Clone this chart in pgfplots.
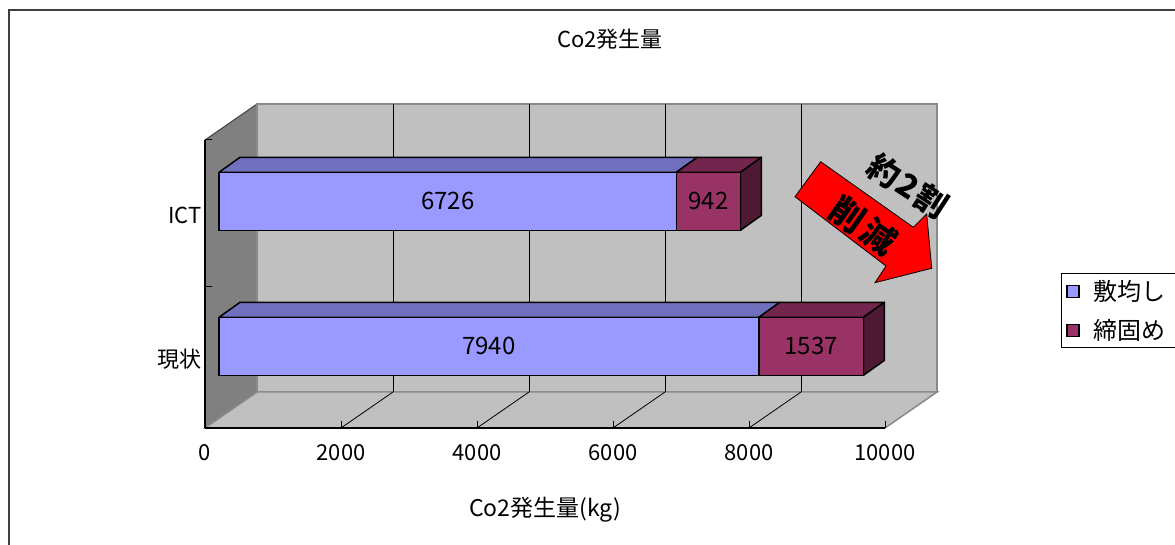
\documentclass[border=0pt]{standalone}
\usepackage{fontspec}
\setmainfont{Noto Sans CJK JP}
\usepackage{pgfplots}
\usepackage{pgfplotstable}
\pgfplotsset{compat=1.18}

\definecolor{wallback}{HTML}{C0C0C0}
\definecolor{wallside}{HTML}{808080}
\definecolor{walledge}{HTML}{8A8A8A}
\definecolor{spreadfront}{HTML}{9999FF}
\definecolor{spreadtop}{HTML}{7070BE}
\definecolor{compactfront}{HTML}{993366}
\definecolor{compacttop}{HTML}{73264D}
\definecolor{compactside}{HTML}{4D1933}
\definecolor{framegray}{HTML}{404040}

% bar centre (y), 敷均し (a) and 締固め (b) in kg
\pgfplotstableread{
y   a     b
72  7940  1537
217 6726  942
}\cotable

% depth of the bars and of the walls, in axis units
\def\bardx{309}\def\bardy{15}\def\barhw{29}
\def\walldx{765}\def\walldy{36}

\newcommand\chartfont{\fontsize{22}{26}\selectfont}
\newcommand\bigfont{\fontsize{24}{28}\selectfont}

% top and end faces of one stacked bar (row #1 of the table)
\newcommand\barfaces[1]{%
  \pgfplotstablegetelem{#1}{y}\of\cotable\let\cy\pgfplotsretval
  \pgfplotstablegetelem{#1}{a}\of\cotable\let\ca\pgfplotsretval
  \pgfplotstablegetelem{#1}{b}\of\cotable\let\cb\pgfplotsretval
  \pgfmathsetmacro\ct{\cy+\barhw}%
  \pgfmathsetmacro\cbo{\cy-\barhw}%
  \pgfmathsetmacro\ctt{\ct+\bardy}%
  \pgfmathsetmacro\cbt{\cbo+\bardy}%
  \pgfmathsetmacro\cab{\ca+\bardx}%
  \pgfmathsetmacro\ce{\ca+\cb}%
  \pgfmathsetmacro\ceb{\ce+\bardx}%
  \addplot[forget plot, fill=spreadtop, draw=black, line width=1.5pt, line join=round]
    coordinates {(0,\ct) (\bardx,\ctt) (\cab,\ctt) (\ca,\ct)} -- cycle;
  \addplot[forget plot, fill=compacttop, draw=black, line width=1.5pt, line join=round]
    coordinates {(\ca,\ct) (\cab,\ctt) (\ceb,\ctt) (\ce,\ct)} -- cycle;
  \addplot[forget plot, fill=compactside, draw=black, line width=1.5pt, line join=round]
    coordinates {(\ce,\cbo) (\ce,\ct) (\ceb,\ctt) (\ceb,\cbt)} -- cycle;
}

\begin{document}
\begin{tikzpicture}[font=\chartfont]
\useasboundingbox (-205pt,-117pt) rectangle (970pt,428pt);
\fill[white] (-205pt,-117pt) rectangle (970pt,428pt);
\draw[framegray, line width=1.5pt] (-196pt,418pt) rectangle (990pt,-140pt);

% frame: walls, floor, value axis and category axis
\begin{axis}[
  at={(0pt,0pt)}, anchor=origin,
  x=0.068pt, y=1pt,
  xmin=0, xmax=10000, ymin=0, ymax=288,
  clip=false, axis on top,
  axis x line*=bottom, axis y line*=left,
  axis line style={black, line width=1.2pt, -},
  xtick={0,2000,...,10000},
  scaled x ticks=false,
  tick align=inside, major tick length=7pt,
  x tick style={black, line width=1pt},
  ytick={69,213}, yticklabels={現状,ICT},
  y tick style={draw=none},
  tick label style={font=\chartfont},
  xticklabel style={yshift=-13pt},
  /pgf/number format/1000 sep={},
  /pgf/number format/assume math mode=true,
  title={Co2発生量},
  title style={at={(axis description cs:0.5956,1.33)}, anchor=center, font=\chartfont},
  xlabel={Co2発生量(kg)},
  xlabel style={at={(axis description cs:0.5,-0.285)}, anchor=center, font=\fontsize{23}{27}\selectfont},
]
\fill[wallside] (axis cs:0,0) -- (axis cs:\walldx,\walldy) -- (axis cs:\walldx,324) -- (axis cs:0,288) -- cycle;
\draw[black!75, line width=1pt] (axis cs:0,288) -- (axis cs:\walldx,324);
\filldraw[fill=wallback, draw=walledge, line width=1.5pt]
  (axis cs:\walldx,\walldy) rectangle (axis cs:10765,324);
\filldraw[fill=wallback, draw=walledge, line width=1.5pt]
  (axis cs:0,0) -- (axis cs:10000,0) -- (axis cs:10765,\walldy) -- (axis cs:\walldx,\walldy) -- cycle;
\pgfplotsinvokeforeach{2000,4000,6000,8000}{
  \draw[black, line width=0.8pt] (axis cs:#1+\walldx,\walldy) -- (axis cs:#1+\walldx,324);
  \draw[black, line width=0.8pt] (axis cs:#1,0) -- (axis cs:#1+\walldx,\walldy);
}
\pgfplotsinvokeforeach{141,288}{
  \draw[black, line width=1pt] (axis cs:0,#1) -- (axis cs:103,#1);
}
\end{axis}

% the bars, set a little into the depth of the frame
\begin{axis}[
  at={(14pt,9.7pt)}, anchor=origin,
  x=0.068pt, y=1pt,
  xmin=0, xmax=10000, ymin=0, ymax=288,
  clip=false, axis lines=none,
  /pgf/number format/1000 sep={},
  /pgf/number format/assume math mode=true,
  legend style={at={(axis description cs:1.2382,0.5045)}, anchor=north west,
    draw=black, line width=1pt, font=\bigfont, legend cell align=left,
    inner sep=5pt, row sep=13pt, nodes={inner sep=2pt},
    /tikz/every odd column/.append style={column sep=12pt}},
  reverse legend,
]
\barfaces{0}
\barfaces{1}
\addplot[xbar, bar width=58pt, bar shift=0pt, fill=compactfront, draw=black, line width=1.5pt,
  legend image code/.code={\draw[fill=compactfront, draw=black, line width=1.2pt] (4pt,-6pt) rectangle (16pt,6pt);}]
  table[x expr=\thisrow{a}+\thisrow{b}, y=y] {\cotable};
\addlegendentry{\makebox[110pt][l]{締固め}}
\addplot[xbar, bar width=58pt, bar shift=0pt, fill=spreadfront, draw=black, line width=1.5pt,
  legend image code/.code={\draw[fill=spreadfront, draw=black, line width=1.2pt] (4pt,-6pt) rectangle (16pt,6pt);}]
  table[x=a, y=y] {\cotable};
\addlegendentry{\makebox[110pt][l]{敷均し}}
% value labels in the middle of each segment
\addplot[forget plot, draw=none, mark=none, nodes near coords, point meta=explicit,
  every node near coord/.append style={anchor=center, text=black, font=\bigfont}]
  table[x expr=\thisrow{a}/2, y=y, meta=a] {\cotable};
\addplot[forget plot, draw=none, mark=none, nodes near coords, point meta=explicit,
  every node near coord/.append style={anchor=center, text=black, font=\bigfont}]
  table[x expr=\thisrow{a}+\thisrow{b}/2, y=y, meta=b] {\cotable};
\end{axis}

% reduction arrow
\draw[fill=red, draw=black, line width=0.8pt, line join=miter]
  (615.7pt,266.3pt) -- (708.3pt,200.7pt) -- (721.7pt,214pt) -- (726.7pt,159.7pt)
  -- (670pt,145.3pt) -- (681pt,162pt) -- (590pt,231.3pt) -- cycle;
\node[rotate=-35, font=\fontsize{34}{38}\selectfont\bfseries] at (658pt,202pt) {削\hspace{4pt}減};
\node[rotate=-33, font=\fontsize{32}{36}\selectfont\bfseries] at (703pt,242pt) {約\hspace{2pt}2\hspace{2pt}割};
\end{tikzpicture}
\end{document}
